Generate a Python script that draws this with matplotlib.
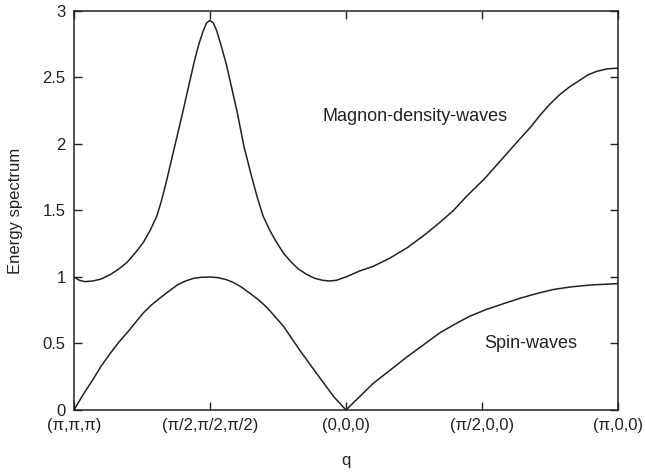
import matplotlib
matplotlib.use("Agg")
import matplotlib.pyplot as plt

plt.rcParams["font.family"] = ["Liberation Sans", "DejaVu Sans"]

# q path positions (0..4) and tick labels
q_ticks = [0, 1, 2, 3, 4]
q_labels = ["(\u03c0,\u03c0,\u03c0)", "(\u03c0/2,\u03c0/2,\u03c0/2)", "(0,0,0)",
            "(\u03c0/2,0,0)", "(\u03c0,0,0)"]

# upper branch: magnon-density-waves
mdw_q = [0.00, 0.04, 0.08, 0.14, 0.20, 0.27, 0.33, 0.39, 0.45, 0.51, 0.56,
         0.61, 0.645, 0.68, 0.71, 0.74, 0.77, 0.80, 0.84, 0.88, 0.915, 0.95,
         0.975, 1.00, 1.025, 1.05, 1.085, 1.12, 1.16, 1.20, 1.225, 1.25, 1.28,
         1.31, 1.35, 1.39, 1.44, 1.49, 1.54, 1.59, 1.65, 1.71, 1.77, 1.83,
         1.88, 1.93, 1.97, 2.00, 2.10, 2.20, 2.32, 2.45, 2.57, 2.69, 2.79,
         2.89, 3.02, 3.15, 3.28, 3.36, 3.43, 3.50, 3.57, 3.645, 3.72, 3.78,
         3.84, 3.92, 4.00]
mdw_e = [1.00, 0.975, 0.965, 0.97, 0.985, 1.02, 1.06, 1.11, 1.18, 1.26, 1.35,
         1.46, 1.58, 1.72, 1.85, 1.98, 2.11, 2.24, 2.42, 2.60, 2.74, 2.85,
         2.91, 2.93, 2.91, 2.85, 2.73, 2.60, 2.42, 2.24, 2.11, 1.98, 1.86,
         1.74, 1.59, 1.46, 1.35, 1.26, 1.18, 1.12, 1.06, 1.02, 0.99, 0.975,
         0.97, 0.975, 0.99, 1.00, 1.045, 1.08, 1.14, 1.22, 1.31, 1.41, 1.50,
         1.61, 1.74, 1.89, 2.04, 2.13, 2.22, 2.30, 2.37, 2.43, 2.48, 2.52,
         2.545, 2.565, 2.57]

# lower branch: spin-waves
sw_q = [0.00, 0.07, 0.14, 0.20, 0.27, 0.33, 0.39, 0.45, 0.51, 0.57, 0.63,
        0.70, 0.76, 0.82, 0.88, 0.94, 1.00, 1.06, 1.12, 1.17, 1.23, 1.29,
        1.355, 1.42, 1.48, 1.54, 1.60, 1.66, 1.72, 1.78, 1.845, 1.91, 1.955,
        2.00, 2.05, 2.10, 2.15, 2.20, 2.25, 2.30, 2.375, 2.45, 2.57, 2.69,
        2.80, 2.91, 3.03, 3.16, 3.28, 3.40, 3.52, 3.65, 3.80, 4.00]
sw_e = [0.00, 0.12, 0.23, 0.33, 0.43, 0.51, 0.58, 0.655, 0.73, 0.79, 0.84,
        0.895, 0.94, 0.97, 0.99, 0.998, 1.00, 0.995, 0.98, 0.96, 0.925, 0.88,
        0.83, 0.77, 0.70, 0.63, 0.54, 0.45, 0.365, 0.28, 0.19, 0.10, 0.05,
        0.00, 0.05, 0.10, 0.15, 0.20, 0.24, 0.28, 0.34, 0.40, 0.49, 0.58,
        0.645, 0.705, 0.755, 0.80, 0.84, 0.875, 0.905, 0.925, 0.94, 0.95]

fig = plt.figure(figsize=(6.45, 4.72), dpi=100)
ax = fig.add_axes([0.1147, 0.1314, 0.8434, 0.8453])

ax.plot(mdw_q, mdw_e, color="#222222", lw=1.1)
ax.plot(sw_q, sw_e, color="#222222", lw=1.1)

ax.text(2.51, 2.21, "Magnon-density-waves", ha="center", va="center",
        fontsize=13, color="#222222")
ax.text(3.36, 0.50, "Spin-waves", ha="center", va="center",
        fontsize=13, color="#222222")

ax.set_xlim(0, 4)
ax.set_ylim(0, 3)
ax.set_xticks(q_ticks)
ax.set_xticklabels(q_labels)
ax.set_yticks([0, 0.5, 1, 1.5, 2, 2.5, 3])
ax.set_yticklabels(["0", "0.5", "1", "1.5", "2", "2.5", "3"])
ax.tick_params(direction="in", length=6, width=1, top=True, right=True,
               labelsize=12, colors="#222222", pad=6)
for s in ax.spines.values():
    s.set_linewidth(1.1)
    s.set_color("#222222")

ax.set_xlabel("q", fontsize=12, color="#222222", labelpad=14)
ax.set_ylabel("Energy spectrum", fontsize=12, color="#222222", labelpad=14)

fig.savefig("out.png", dpi=100)
